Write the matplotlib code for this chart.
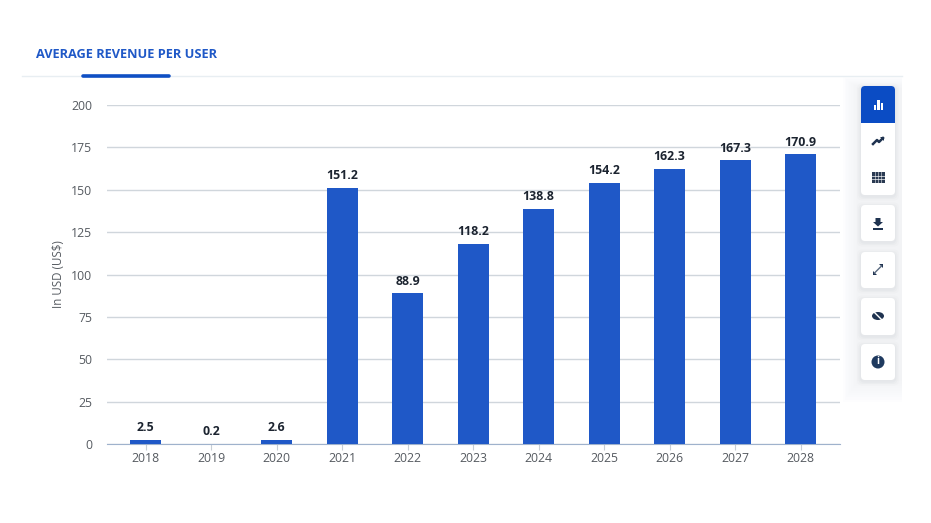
import matplotlib
matplotlib.use("Agg")
import matplotlib.pyplot as plt
from matplotlib.patches import FancyBboxPatch, Rectangle, Circle, Polygon, Ellipse

years = ["2018","2019","2020","2021","2022","2023","2024","2025","2026","2027","2028"]
arpu = [2.5,0.2,2.6,151.2,88.9,118.2,138.8,154.2,162.3,167.3,170.9]
yticks = [0,25,50,75,100,125,150,175,200]
title = "AVERAGE REVENUE PER USER"
ylabel = "In USD (US$)"
BLUE = "#1f58c7"
W,H = 931,523
plt.rcParams['font.family'] = ['Open Sans','DejaVu Sans']
fig = plt.figure(figsize=(W/100,H/100),dpi=100,facecolor="white")

ui = fig.add_axes([0,0,1,1],zorder=0)
ui.set_xlim(0,W); ui.set_ylim(H,0); ui.axis("off")
ui.text(36,55,title,color=BLUE,fontsize=9.15,fontweight="bold",va="center",ha="left")
ui.plot([22,902],[75.5,75.5],color="#e8eef2",lw=1)
ui.plot([83,169],[75.5,75.5],color="#0f4fc4",lw=2.6,solid_capstyle="round")
# side panel shading, fading out at its edges
for i in range(10):
    ui.add_patch(Rectangle((843+i*1.6,77+i*1.2),59-i*1.6,325-i*3.5,fc="#e6e9ef",ec="none",alpha=0.05))

def card(x,y,w,h,fc="white"):
    for k,a in ((4,.03),(2.5,.05),(1.2,.06)):
        ui.add_patch(FancyBboxPatch((x-k,y-k+1.5),w+2*k,h+2*k,boxstyle="round,pad=0,rounding_size=5",fc="#9aa3b2",ec="none",alpha=a))
    ui.add_patch(FancyBboxPatch((x,y),w,h,boxstyle="round,pad=0,rounding_size=4",fc=fc,ec="none"))

card(861,86,34,109)
ui.add_patch(FancyBboxPatch((861,86),34,37,boxstyle="round,pad=0,rounding_size=4",fc="#0b4cc4",ec="none"))
ui.add_patch(Rectangle((861,105),34,18,fc="#0b4cc4",ec="none"))
for x0,top in ((873.5,105),(877,100),(880.5,103)):
    ui.add_patch(Rectangle((x0,top),2.6,110-top,fc="white",ec="none"))
# line icon
ui.plot([873,877,879,883],[144,140,142,138],color="#1f3350",lw=1.8)
ui.add_patch(Polygon([[880,137],[884,137],[884,141]],fc="#1f3350",ec="none"))
# table icon
ui.add_patch(Rectangle((872,172),12.5,10.5,fc="#2a3a52",ec="none"))
for yy in (175.5,179):
    ui.plot([872,884.5],[yy,yy],color="white",lw=0.6,alpha=0.8)
for xx in (875.1,878.2,881.3):
    ui.plot([xx,xx],[172,182.5],color="white",lw=0.6,alpha=0.6)
card(861,205,34,36)
ui.add_patch(Polygon([[875.5,218],[880.5,218],[880.5,222],[883,222],[878,226.5],[873,222],[875.5,222]],fc="#1f3350",ec="none"))
ui.add_patch(Rectangle((873,228),10,1.8,fc="#1f3350",ec="none"))
card(861,252,34,36)
ui.plot([874.5,881.5],[273,266],color="#5b6b80",lw=1)
ui.add_patch(Polygon([[873,271],[873,275],[877,275]],fc="#1f3350",ec="none"))
ui.add_patch(Polygon([[879,264],[883,264],[883,268]],fc="#1f3350",ec="none"))
card(861,298,34,37)
ui.add_patch(Ellipse((878,316),12,8,fc="#1f3350",ec="none"))
ui.plot([873,883],[311,321],color="white",lw=1)
card(861,344,34,36)
ui.add_patch(Circle((878,362),6.5,fc="#1f3a5f",ec="none"))
ui.text(878,362,"i",color="white",fontsize=7,fontweight="bold",ha="center",va="center")

ax = fig.add_axes([107/W,1-444/H,(840-107)/W,(444-105)/H],zorder=1)
ax.patch.set_alpha(0)
xs = list(range(len(years)))
ax.set_xlim(-0.59,10.6); ax.set_ylim(0,200)
ax.bar(xs,arpu,width=0.475,color=BLUE,zorder=3)
ax.set_yticks(yticks); ax.set_xticks(xs); ax.set_xticklabels(years)
ax.grid(axis="y",color="#d0d6dc",lw=1,zorder=0)
ax.set_axisbelow(True)
for s in ("top","right","left"):
    ax.spines[s].set_visible(False)
ax.spines["bottom"].set_color("#9fb2cc")
ax.tick_params(axis="y",length=0,pad=10.5,labelsize=8.8,labelcolor="#555a60")
ax.tick_params(axis="x",length=4,color="#c8ced6",pad=1.5,labelsize=8.8,labelcolor="#555a60")
ax.set_ylabel(ylabel,fontsize=8.3,color="#555a60",labelpad=4.5)
for x,v in zip(xs,arpu):
    ax.annotate(f"{v:.1f}",(x,v),xytext=(0,4),textcoords="offset points",ha="center",va="bottom",
                fontsize=8.9,fontweight="bold",color="#1c2430")
fig.savefig("out.png",dpi=100)
